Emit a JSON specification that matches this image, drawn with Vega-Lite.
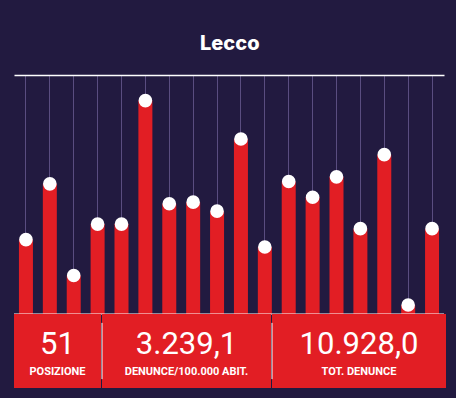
{
  "$schema": "https://vega.github.io/schema/vega-lite/v6.json",
  "background": "#221a40",
  "padding": {"left": 13, "top": 34, "right": 13, "bottom": 10},
  "bounds": "flush",
  "spacing": 0,
  "title": {"text": "Lecco", "color": "white", "font": "Inter", "fontSize": 20, "fontWeight": 800, "anchor": "middle", "offset": 21},
  "config": {"view": {"stroke": null}, "concat": {"spacing": 0}},
  "datasets": {
    "barre": [
      {"indice": 1, "valore": 74.7},
      {"indice": 2, "valore": 130.7},
      {"indice": 3, "valore": 38.7},
      {"indice": 4, "valore": 90.3},
      {"indice": 5, "valore": 90.3},
      {"indice": 6, "valore": 214.3},
      {"indice": 7, "valore": 110.7},
      {"indice": 8, "valore": 112.3},
      {"indice": 9, "valore": 103.3},
      {"indice": 10, "valore": 175.7},
      {"indice": 11, "valore": 67.3},
      {"indice": 12, "valore": 133},
      {"indice": 13, "valore": 117.3},
      {"indice": 14, "valore": 137.7},
      {"indice": 15, "valore": 85.7},
      {"indice": 16, "valore": 160},
      {"indice": 17, "valore": 9},
      {"indice": 18, "valore": 85.7}
    ],
    "statistiche": [
      {"voce": "POSIZIONE", "cifra": "51"},
      {"voce": "DENUNCE/100.000 ABIT.", "cifra": "3.239,1"},
      {"voce": "TOT. DENUNCE", "cifra": "10.928,0"}
    ]
  },
  "vconcat": [
    {
      "width": 430,
      "height": 239,
      "layer": [
        {
          "data": {"name": "barre"},
          "mark": {"type": "bar", "width": 14, "color": "#e21e24"},
          "encoding": {
            "x": {"field": "indice", "type": "ordinal", "scale": {"paddingInner": 0, "paddingOuter": 0},
              "axis": {"orient": "top", "labels": false, "ticks": false, "title": null, "domainColor": "white", "domainWidth": 1.5, "grid": true, "gridColor": "#5a4d80", "gridWidth": 1, "bandPosition": 0.5}},
            "y": {"field": "valore", "type": "quantitative", "scale": {"domain": [0, 239]}, "axis": null}
          }
        },
        {
          "data": {"name": "barre"},
          "mark": {"type": "circle", "size": 185, "color": "white", "opacity": 1},
          "encoding": {
            "x": {"field": "indice", "type": "ordinal"},
            "y": {"field": "valore", "type": "quantitative"}
          }
        },
        {
          "data": {"values": [{}]},
          "mark": {"type": "rule", "color": "white", "strokeWidth": 1},
          "encoding": {"y": {"datum": 0, "type": "quantitative"}}
        }
      ]
    },
    {
      "spacing": 0,
      "data": {"name": "statistiche"},
      "hconcat": [
        {
          "width": 87, "height": 74,
          "view": {"fill": "#e21e24", "stroke": null},
          "transform": [{"filter": "datum.voce === 'POSIZIONE'"}],
          "layer": [
            {"mark": {"type": "text", "color": "white", "font": "Roboto", "fontWeight": 400, "fontSize": 31, "baseline": "alphabetic", "dy": 3}, "encoding": {"text": {"field": "cifra"}}},
            {"mark": {"type": "text", "color": "white", "font": "Liberation Sans Narrow, Roboto", "fontWeight": "bold", "fontSize": 11, "baseline": "alphabetic", "dy": 24}, "encoding": {"text": {"field": "voce"}}}
          ]
        },
        {
          "width": 169, "height": 74,
          "view": {"fill": "#e21e24", "stroke": null},
          "transform": [{"filter": "datum.voce === 'DENUNCE/100.000 ABIT.'"}],
          "layer": [
            {"mark": {"type": "text", "color": "white", "font": "Roboto", "fontWeight": 400, "fontSize": 31, "baseline": "alphabetic", "dy": 3}, "encoding": {"text": {"field": "cifra"}}},
            {"mark": {"type": "text", "color": "white", "font": "Liberation Sans Narrow, Roboto", "fontWeight": "bold", "fontSize": 11, "baseline": "alphabetic", "dy": 24}, "encoding": {"text": {"field": "voce"}}},
            {"mark": {"type": "rule", "color": "white", "strokeWidth": 1},
             "encoding": {
               "x": {"datum": 0, "type": "quantitative", "scale": {"domain": [0, 1]}, "axis": null},
               "y": {"datum": 0.12, "type": "quantitative", "scale": {"domain": [0, 1]}, "axis": null},
               "y2": {"datum": 0.88}
             }}
          ]
        },
        {
          "width": 174, "height": 74,
          "view": {"fill": "#e21e24", "stroke": null},
          "transform": [{"filter": "datum.voce === 'TOT. DENUNCE'"}],
          "layer": [
            {"mark": {"type": "text", "color": "white", "font": "Roboto", "fontWeight": 400, "fontSize": 31, "baseline": "alphabetic", "dy": 3}, "encoding": {"text": {"field": "cifra"}}},
            {"mark": {"type": "text", "color": "white", "font": "Liberation Sans Narrow, Roboto", "fontWeight": "bold", "fontSize": 11, "baseline": "alphabetic", "dy": 24}, "encoding": {"text": {"field": "voce"}}},
            {"mark": {"type": "rule", "color": "white", "strokeWidth": 1},
             "encoding": {
               "x": {"datum": 0, "type": "quantitative", "scale": {"domain": [0, 1]}, "axis": null},
               "y": {"datum": 0.12, "type": "quantitative", "scale": {"domain": [0, 1]}, "axis": null},
               "y2": {"datum": 0.88}
             }}
          ]
        }
      ]
    }
  ]
}
